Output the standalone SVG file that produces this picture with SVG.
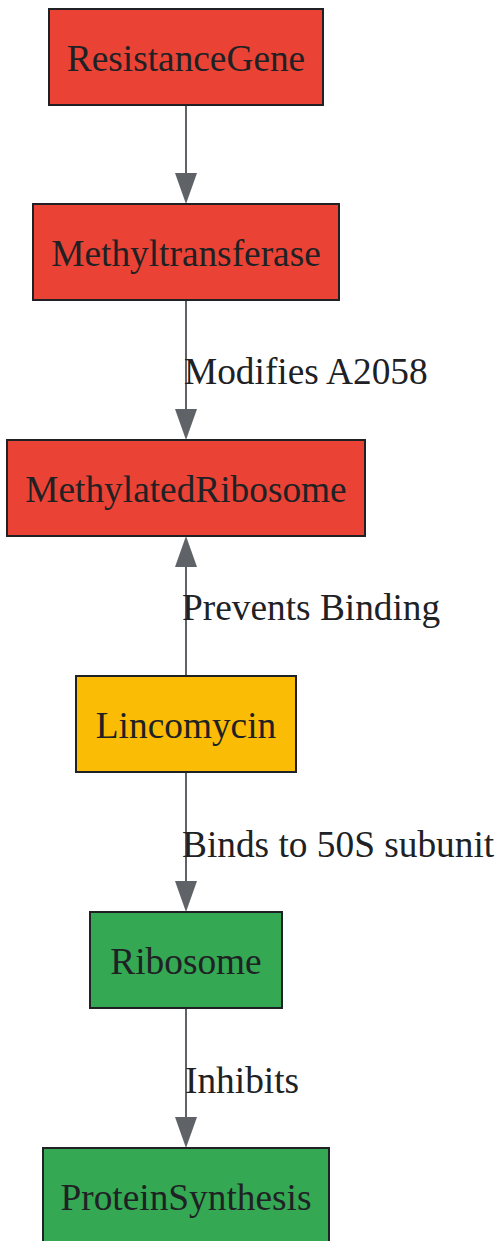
<svg xmlns="http://www.w3.org/2000/svg" width="497" height="1241" viewBox="0 0 497 1241">
<style>
.n rect{stroke:#202124;stroke-width:2}
.red{fill:#EA4335}.yel{fill:#FBBC05}.grn{fill:#34A853}
text{font-family:"Liberation Serif","Times New Roman",serif;font-size:37.33px;fill:#202124}
.n text{text-anchor:middle}
.e line{stroke:#5F6368;stroke-width:2}
.arr{fill:#5F6368}
</style>
<rect width="497" height="1241" fill="#ffffff"/>
<g id="edges" class="e">
<line x1="186" y1="105" x2="186" y2="176"/>
<polygon class="arr" points="175,173 197,173 186,204"/>
<line x1="186" y1="300" x2="186" y2="412"/>
<polygon class="arr" points="175,409 197,409 186,440"/>
<text x="184" y="384">Modifies A2058</text>
<line x1="186" y1="676" x2="186" y2="564"/>
<polygon class="arr" points="175,567 197,567 186,536"/>
<text x="182" y="620">Prevents Binding</text>
<line x1="186" y1="772" x2="186" y2="884"/>
<polygon class="arr" points="175,881 197,881 186,912"/>
<text x="182" y="857">Binds to 50S subunit</text>
<line x1="186" y1="1008" x2="186" y2="1120"/>
<polygon class="arr" points="175,1117 197,1117 186,1148"/>
<text x="185" y="1093">Inhibits</text>
</g>
<g id="ResistanceGene" class="n"><rect class="red" x="49" y="9" width="274" height="96"/><text x="186" y="71">ResistanceGene</text></g>
<g id="Methyltransferase" class="n"><rect class="red" x="33" y="204" width="306" height="96"/><text x="186" y="266">Methyltransferase</text></g>
<g id="MethylatedRibosome" class="n"><rect class="red" x="7" y="440" width="358" height="96"/><text x="186" y="502">MethylatedRibosome</text></g>
<g id="Lincomycin" class="n"><rect class="yel" x="76" y="676" width="220" height="96"/><text x="186" y="738">Lincomycin</text></g>
<g id="Ribosome" class="n"><rect class="grn" x="90" y="912" width="192" height="96"/><text x="186" y="974">Ribosome</text></g>
<g id="ProteinSynthesis" class="n"><rect class="grn" x="43" y="1148" width="286" height="96"/><text x="186" y="1210">ProteinSynthesis</text></g>
</svg>
